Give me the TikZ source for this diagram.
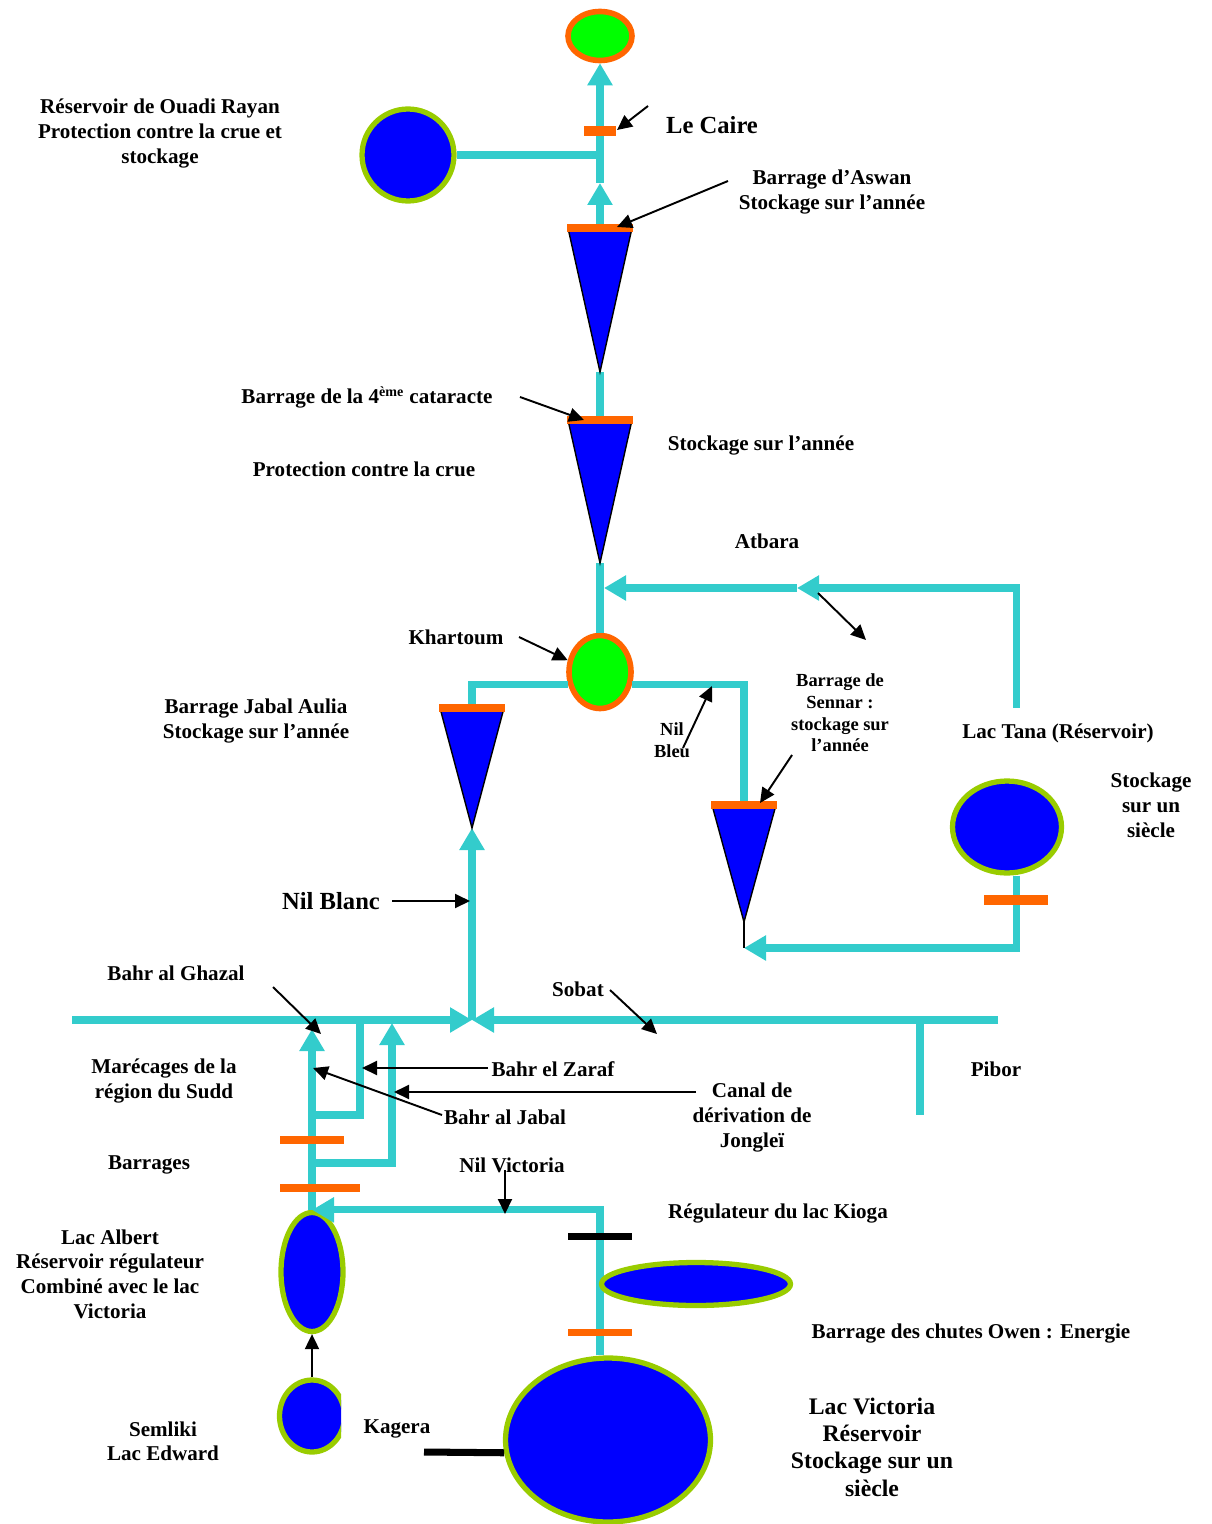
\documentclass[tikz,border=0pt]{standalone}
\usepackage{fontspec}
\setmainfont{Liberation Serif}
\usetikzlibrary{arrows.meta,shapes.geometric}
\definecolor{nile}{RGB}{51,204,204}
\definecolor{damorange}{RGB}{255,102,0}
\definecolor{lakerim}{RGB}{153,204,0}
\definecolor{lakeblue}{RGB}{0,0,255}
\definecolor{citygreen}{RGB}{0,255,0}

\begin{document}
\begin{tikzpicture}[x=0.02cm, y=-0.02cm,
  river/.style={draw=nile, line width=4pt},
  flow/.style={river, -{Triangle[length=4.4mm, width=4.8mm]}},
  gate/.style={draw=damorange, line width=4pt},
  shut/.style={draw=black, line width=4pt},
  pointer/.style={-{Triangle[length=3mm, width=2.8mm]}, line width=1.1pt},
  lake/.style={ellipse, draw=lakerim, fill=lakeblue, line width=3pt, inner sep=0pt},
  city/.style={ellipse, draw=damorange, fill=citygreen, line width=3.2pt, inner sep=0pt},
  dam/.style={fill=lakeblue, draw=black, line width=0.8pt},
  lbl/.style={font=\fontsize{12}{14.2}\selectfont\bfseries, align=center, yshift=-1.3pt},
  biglbl/.style={font=\fontsize{14}{16}\selectfont\bfseries, align=center},
  smalllbl/.style={font=\fontsize{10.5}{12.4}\selectfont\bfseries, align=center}
]
\useasboundingbox (0,0) rectangle (1212,1524);

% dams and river points
\foreach \name/\x/\ytop/\ytip in {aswan/600/228/372, cataract/600/420/563,
    aulia/472/708/828, sennar/744/805/922} {
  \coordinate (\name-top) at (\x,\ytop);
  \coordinate (\name-tip) at (\x,\ytip);
}
\coordinate (cairo) at (600,131);
\coordinate (cairo-flow) at (600,183);
\coordinate (atbara-src) at (1016,708);
\coordinate (atbara-flow) at (797,588);
\coordinate (atbara-mouth) at (604,588);
\coordinate (sennar-foot) at (744,948);
\coordinate (tana-gate) at (1016,900);
\coordinate (confluence) at (472,1020);
\coordinate (ghazal-src) at (72,1020);
\coordinate (sobat-src) at (998,1020);
\coordinate (pibor-join) at (920,1020);
\coordinate (pibor-src) at (920,1115);
\coordinate (jabal-mouth) at (312,1029);
\coordinate (zaraf-off) at (312,1115);
\coordinate (zaraf-mouth) at (360,1020);
\coordinate (canal-off) at (312,1163);
\coordinate (canal-mouth) at (392,1023);
\coordinate (sudd-gate) at (312,1140);
\coordinate (sudd-gate2) at (312,1188);
\coordinate (kioga-gate) at (600,1236);
\coordinate (owen) at (600,1332);
\coordinate (kagera) at (424,1452);

% lakes
\node[city, minimum width=1.28cm, minimum height=0.98cm] (mouth) at (600,36) {};
\node[lake, minimum width=1.84cm, minimum height=1.84cm] (rayan) at (408,155) {};
\node[city, minimum width=1.24cm, minimum height=1.46cm] (khartoum) at (600,672) {};
\node[lake, minimum width=2.18cm, minimum height=1.84cm] (tana) at (1007,827) {};
\node[lake, minimum width=1.24cm, minimum height=2.38cm] (albert) at (312,1272) {};
\begin{scope}
  \clip (260,1370) rectangle (341,1464);
  \node[lake, minimum width=1.3cm, minimum height=1.44cm] (edward) at (312,1416) {};
\end{scope}
\node[lake, minimum width=4.1cm, minimum height=3.28cm] (victoria) at (608,1440) {};

% rivers
\draw[flow] (aswan-top) -- (cairo-flow);
\draw[flow] (cairo-flow) -- (mouth.south);
\draw[river] (rayan.east) -- (rayan.east -| aswan-top);
\draw[river] (aswan-tip) -- (cataract-top);
\draw[river] (cataract-tip) -- (khartoum.north);
\draw[flow] (atbara-src) |- (atbara-flow);
\draw[flow] (atbara-flow) -- (atbara-mouth);
\draw[river] (khartoum.201) -| (aulia-top);
\draw[river] (khartoum.-21) -| (sennar-top);
\draw[flow] (tana.south -| atbara-src) |- (sennar-foot);
\draw[line width=1.1pt] (sennar-tip) -- (sennar-foot);
\draw[flow] (confluence) -- (aulia-tip);
\draw[flow] (ghazal-src) -- (confluence);
\draw[flow] (sobat-src) -- (confluence);
\draw[river] (pibor-join) -- (pibor-src);
\draw[flow] (albert.north) -- (jabal-mouth);
\draw[river] (zaraf-off) -| (zaraf-mouth);
\draw[flow] (canal-off) -| (canal-mouth);
\draw[flow] (victoria.north -| owen) |- (albert.north);
\node[lake, minimum width=3.78cm, minimum height=0.86cm] (kioga) at (696,1284) {};

% dams and gates
\foreach \name in {aswan, cataract, aulia, sennar} {
  \draw[dam] ([xshift=-0.64cm]\name-top) -- ([xshift=0.64cm]\name-top) -- (\name-tip) -- cycle;
  \draw[gate] ([xshift=-0.66cm]\name-top) -- ([xshift=0.66cm]\name-top);
}
\draw[gate, line width=5.7pt] ([xshift=-0.32cm]cairo) -- ([xshift=0.32cm]cairo);
\draw[gate, line width=5.7pt] ([xshift=-0.64cm]tana-gate) -- ([xshift=0.64cm]tana-gate);
\draw[gate] ([xshift=-0.64cm]sudd-gate) -- ([xshift=0.64cm]sudd-gate);
\draw[gate] ([xshift=-0.64cm]sudd-gate2) -- ([xshift=0.96cm]sudd-gate2);
\draw[shut] ([xshift=-0.64cm]kioga-gate) -- ([xshift=0.64cm]kioga-gate);
\draw[gate] ([xshift=-0.64cm]owen) -- ([xshift=0.64cm]owen);
\draw[shut] (kagera) -- (victoria.187);

% labels
\node[lbl] (rayan-lbl) at (160,131) {Réservoir de Ouadi Rayan\\Protection contre la crue et\\stockage};
\node[biglbl] (caire-lbl) at (712,125) {Le Caire};
\node[lbl] (aswan-lbl) at (832,190) {Barrage d’Aswan\\Stockage sur l’année};
\node[lbl] (cataract-lbl) at (367,395) {Barrage de la 4\textsuperscript{ème} cataracte};
\node[lbl] (crue-lbl) at (364,467) {Protection contre la crue};
\node[lbl] (cataract-use) at (761,443) {Stockage sur l’année};
\node[lbl] (atbara-lbl) at (767,539) {Atbara};
\node[lbl] (khartoum-lbl) at (456,635) {Khartoum};
\node[lbl] (aulia-lbl) at (256,719) {Barrage Jabal Aulia\\Stockage sur l’année};
\node[smalllbl] (bleu-lbl) at (672,740) {Nil\\Bleu};
\node[smalllbl] (sennar-lbl) at (840,713) {Barrage de\\Sennar :\\stockage sur\\l’année};
\node[lbl] (tana-lbl) at (1058,731) {Lac Tana (Réservoir)};
\node[lbl] (tana-use) at (1151,803) {Stockage\\sur un\\siècle};
\node[biglbl] (blanc-lbl) at (331,901) {Nil Blanc};
\node[lbl] (ghazal-lbl) at (176,971) {Bahr al Ghazal};
\node[lbl] (sobat-lbl) at (578,987) {Sobat};
\node[lbl] (sudd-lbl) at (164,1079) {Marécages de la\\région du Sudd};
\node[lbl] (zaraf-lbl) at (553,1067) {Bahr el Zaraf};
\node[lbl] (jabal-lbl) at (505,1115) {Bahr al Jabal};
\node[lbl] (canal-lbl) at (752,1115) {Canal de\\dérivation de\\Jongleï};
\node[lbl] (pibor-lbl) at (996,1067) {Pibor};
\node[lbl] (barrages-lbl) at (149,1163) {Barrages};
\node[lbl] (vnile-lbl) at (512,1163) {Nil Victoria};
\node[lbl] (kioga-lbl) at (778,1211) {Régulateur du lac Kioga};
\node[lbl] (albert-lbl) at (110,1272) {Lac Albert\\Réservoir régulateur\\Combiné avec le lac\\Victoria};
\node[lbl] (owen-lbl) at (971,1331) {Barrage des chutes Owen : Energie};
\node[lbl] (edward-lbl) at (163,1439) {Semliki\\Lac Edward};
\node[lbl] (kagera-lbl) at (397,1427) {Kagera};
\node[font=\fontsize{13.5}{15.6}\selectfont\bfseries, align=center] (victoria-lbl) at (872,1447) {Lac Victoria\\Réservoir\\Stockage sur un\\siècle};

% pointers
\coordinate (p-caire) at (648,106);    \coordinate (t-caire) at (617,130);
\coordinate (p-aswan) at (728,181);    \coordinate (t-aswan) at (617,227);
\coordinate (p-cataract) at (520,397); \coordinate (t-cataract) at (584,420);
\coordinate (p-atbara) at (818,593);   \coordinate (t-atbara) at (866,640);
\coordinate (p-khartoum) at (519,637); \coordinate (t-khartoum) at (khartoum.160);
\coordinate (p-bleu) at (683,748);     \coordinate (t-bleu) at (712,686);
\coordinate (p-sennar) at (792,755);   \coordinate (t-sennar) at (760,803);
\coordinate (p-blanc) at (392,901);    \coordinate (t-blanc) at (470,901);
\coordinate (p-ghazal) at (273,987);   \coordinate (t-ghazal) at (321,1034);
\coordinate (p-sobat) at (610,990);    \coordinate (t-sobat) at (657,1034);
\coordinate (p-zaraf) at (488,1068);   \coordinate (t-zaraf) at (362,1068);
\coordinate (p-jabal) at (442,1115);   \coordinate (t-jabal) at (313,1068);
\coordinate (p-canal) at (696,1092);   \coordinate (t-canal) at (394,1092);
\coordinate (p-vnile) at (505,1170);   \coordinate (t-vnile) at (505,1214);
\foreach \r in {caire, aswan, cataract, atbara, khartoum, bleu, sennar, blanc,
    ghazal, sobat, zaraf, jabal, canal, vnile}
  \draw[pointer] (p-\r) -- (t-\r);
\draw[pointer] (edward.north) -- (albert.south);
\end{tikzpicture}
\end{document}
